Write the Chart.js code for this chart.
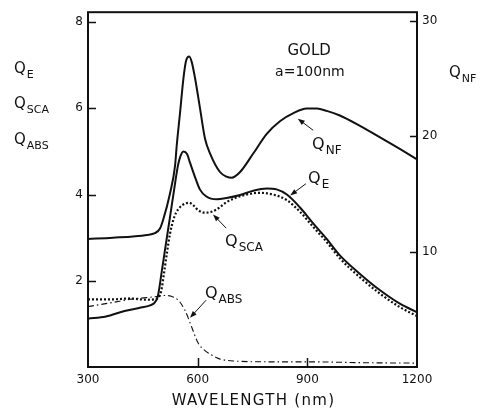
<!DOCTYPE html>
<html>
<head>
<meta charset="utf-8">
<script src="https://cdn.jsdelivr.net/npm/chart.js@4"></script>
<style>
  html, body { margin: 0; padding: 0; background: #fff; }
  canvas { display: block; }
</style>
</head>
<body>
<canvas id="goldChart" width="490" height="409"></canvas>
<script>
// wavelength grids (nm) and efficiencies for each curve
const wlNF = [300, 368, 461, 483, 497, 506, 524, 538, 543, 552, 561, 568, 577, 584, 593, 606, 620, 634, 661, 679, 693, 716, 752, 789, 825, 862, 898, 926, 953, 989, 1044, 1099, 1153, 1200];
const qNF = [11.1, 11.2, 11.45, 11.6, 12.0, 12.8, 15.0, 17.4, 19.3, 22.1, 25.0, 26.5, 26.9, 26.4, 25.0, 22.5, 19.8, 18.5, 16.9, 16.5, 16.4, 16.9, 18.5, 20.2, 21.3, 22.0, 22.4, 22.4, 22.2, 21.8, 20.9, 19.9, 18.9, 18.0];

const wlE = [300, 349, 400, 440, 470, 483, 491, 502, 513, 524, 535, 546, 552, 561, 571, 579, 593, 606, 623, 652, 679, 716, 752, 789, 816, 844, 880, 916, 953, 989, 1044, 1099, 1153, 1200];
const qE = [1.12, 1.17, 1.30, 1.37, 1.43, 1.50, 1.64, 2.23, 2.85, 3.46, 4.08, 4.67, 4.87, 5.0, 4.94, 4.74, 4.40, 4.12, 3.96, 3.89, 3.92, 3.99, 4.09, 4.14, 4.12, 4.00, 3.70, 3.33, 2.97, 2.59, 2.16, 1.78, 1.47, 1.27];

const wlSCA = [300, 370, 415, 460, 480, 491, 500, 508, 516, 524, 533, 541, 552, 565, 577, 587, 601, 620, 634, 653, 680, 724, 771, 806, 844, 880, 916, 953, 989, 1044, 1099, 1153, 1200];
const qSCA = [1.57, 1.57, 1.59, 1.56, 1.57, 1.60, 1.75, 2.18, 2.65, 3.08, 3.40, 3.58, 3.71, 3.79, 3.81, 3.76, 3.64, 3.58, 3.59, 3.66, 3.83, 3.98, 4.04, 4.00, 3.87, 3.60, 3.25, 2.90, 2.52, 2.08, 1.70, 1.39, 1.18];

const wlABS = [300, 369, 415, 460, 483, 510, 528, 547, 565, 583, 601, 620, 634, 656, 697, 800, 907, 1050, 1200];
const qABS = [1.40, 1.50, 1.57, 1.61, 1.63, 1.66, 1.64, 1.55, 1.32, 0.94, 0.56, 0.38, 0.30, 0.20, 0.14, 0.12, 0.12, 0.10, 0.09];

const xTicks = [300, 600, 900, 1200];
const leftTicks = [2, 4, 6, 8];
const rightTicks = [10, 20, 30];

const INK = "#111";
const FONT = "'DejaVu Sans', sans-serif";

const pts = (xs, ys) => xs.map((x, i) => ({ x: x, y: ys[i] }));

// Q with a subscript, e.g. Q_SCA
function drawQ(ctx, x, y, sub, size) {
  ctx.font = size + "px " + FONT;
  ctx.fillText("Q", x, y);
  const w = ctx.measureText("Q").width;
  ctx.font = Math.round(size * 0.72) + "px " + FONT;
  ctx.fillText(sub, x + w + 1, y + size * 0.3);
}

function arrow(ctx, x1, y1, x2, y2) {
  const a = Math.atan2(y2 - y1, x2 - x1);
  const L = 7, W = 2.6;
  ctx.beginPath();
  ctx.moveTo(x1, y1);
  ctx.lineTo(x2 - Math.cos(a) * L * 0.8, y2 - Math.sin(a) * L * 0.8);
  ctx.stroke();
  ctx.beginPath();
  ctx.moveTo(x2, y2);
  ctx.lineTo(x2 - Math.cos(a) * L - Math.sin(a) * W, y2 - Math.sin(a) * L + Math.cos(a) * W);
  ctx.lineTo(x2 - Math.cos(a) * L + Math.sin(a) * W, y2 - Math.sin(a) * L - Math.cos(a) * W);
  ctx.closePath();
  ctx.fill();
}

// frame, inward ticks, curve labels and axis titles
const decorations = {
  id: "decorations",
  afterDraw(chart) {
    const { ctx, chartArea: a, scales } = chart;
    const x = scales.x, y = scales.y, y2 = scales.y2;
    ctx.save();
    ctx.strokeStyle = INK;
    ctx.fillStyle = INK;
    ctx.lineWidth = 2;
    ctx.strokeRect(a.left, a.top, a.right - a.left, a.bottom - a.top);

    ctx.lineWidth = 1.5;
    ctx.beginPath();
    leftTicks.forEach(v => {
      const p = Math.round(y.getPixelForValue(v)) + 0.5;
      ctx.moveTo(a.left, p); ctx.lineTo(a.left + 8, p);
    });
    rightTicks.forEach(v => {
      const p = Math.round(y2.getPixelForValue(v)) + 0.5;
      ctx.moveTo(a.right, p); ctx.lineTo(a.right - 7, p);
    });
    [600, 900].forEach(v => {
      const p = Math.round(x.getPixelForValue(v)) + 0.5;
      ctx.moveTo(p, a.bottom); ctx.lineTo(p, a.bottom - 9);
    });
    ctx.stroke();

    const px = nm => x.getPixelForValue(nm);
    const py = v => y.getPixelForValue(v);

    ctx.textAlign = "center";
    ctx.textBaseline = "alphabetic";
    ctx.font = "15px " + FONT;
    ctx.fillText("GOLD", px(905), py(7.24));
    ctx.font = "14px " + FONT;
    ctx.fillText("a=100nm", px(907), py(6.76));

    // x axis title, spaced out like stencil lettering
    ctx.font = "15px " + FONT;
    ctx.letterSpacing = "1.3px";
    ctx.fillText("WAVELENGTH (nm)", (a.left + a.right) / 2 + 1, 405);
    ctx.letterSpacing = "0px";

    ctx.textAlign = "left";
    drawQ(ctx, px(913), py(5.05), "NF", 16);
    drawQ(ctx, px(902), py(4.27), "E", 16);
    drawQ(ctx, px(675), py(2.81), "SCA", 16);
    drawQ(ctx, px(620), py(1.60), "ABS", 16);

    ctx.lineWidth = 1;
    arrow(ctx, px(916), py(5.49), px(874), py(5.76));
    arrow(ctx, px(896), py(4.25), px(853), py(3.98));
    arrow(ctx, px(678), py(3.22), px(642), py(3.54));
    arrow(ctx, px(623), py(1.55), px(579), py(1.14));

    drawQ(ctx, 14, 73, "E", 15);
    drawQ(ctx, 14, 108, "SCA", 15);
    drawQ(ctx, 14, 144, "ABS", 15);
    drawQ(ctx, 449, 77, "NF", 15);
    ctx.restore();
  }
};

const lineBase = {
  pointRadius: 0,
  fill: false,
  cubicInterpolationMode: "monotone",
  borderColor: INK,
};

const tickFont = { family: FONT, size: 12 };
const noGrid = { display: false, drawTicks: false };

new Chart(document.getElementById("goldChart"), {
  type: "line",
  data: {
    datasets: [
      { ...lineBase, label: "Q_NF", data: pts(wlNF, qNF), yAxisID: "y2", borderWidth: 2 },
      { ...lineBase, label: "Q_E", data: pts(wlE, qE), yAxisID: "y", borderWidth: 2 },
      { ...lineBase, label: "Q_SCA", data: pts(wlSCA, qSCA), yAxisID: "y", borderWidth: 2.2, borderDash: [2, 2] },
      { ...lineBase, label: "Q_ABS", data: pts(wlABS, qABS), yAxisID: "y", borderWidth: 1.1, borderDash: [6, 3, 1.5, 3] },
    ],
  },
  options: {
    responsive: false,
    animation: false,
    layout: { padding: { top: 7, left: 0, right: 0, bottom: 0 } },
    plugins: { legend: { display: false }, tooltip: { enabled: false } },
    scales: {
      x: {
        type: "linear",
        min: 300,
        max: 1200,
        grid: noGrid,
        border: { display: false },
        afterBuildTicks: s => { s.ticks = xTicks.map(v => ({ value: v })); },
        afterFit: s => { s.height = 42; },
        ticks: { color: INK, font: tickFont, padding: 6, maxRotation: 0, callback: v => String(v) },
      },
      y: {
        position: "left",
        min: 0,
        max: 8.23,
        grid: noGrid,
        border: { display: false },
        afterBuildTicks: s => { s.ticks = leftTicks.map(v => ({ value: v })); },
        afterFit: s => { s.width = 88; },
        ticks: { color: INK, font: tickFont, padding: 5, callback: v => String(v) },
      },
      y2: {
        position: "right",
        min: 0,
        max: 30.75,
        grid: noGrid,
        border: { display: false },
        afterBuildTicks: s => { s.ticks = rightTicks.map(v => ({ value: v })); },
        afterFit: s => { s.width = 73; },
        ticks: { color: INK, font: tickFont, padding: 5, callback: v => String(v) },
      },
    },
  },
  plugins: [decorations],
});
</script>
</body>
</html>
